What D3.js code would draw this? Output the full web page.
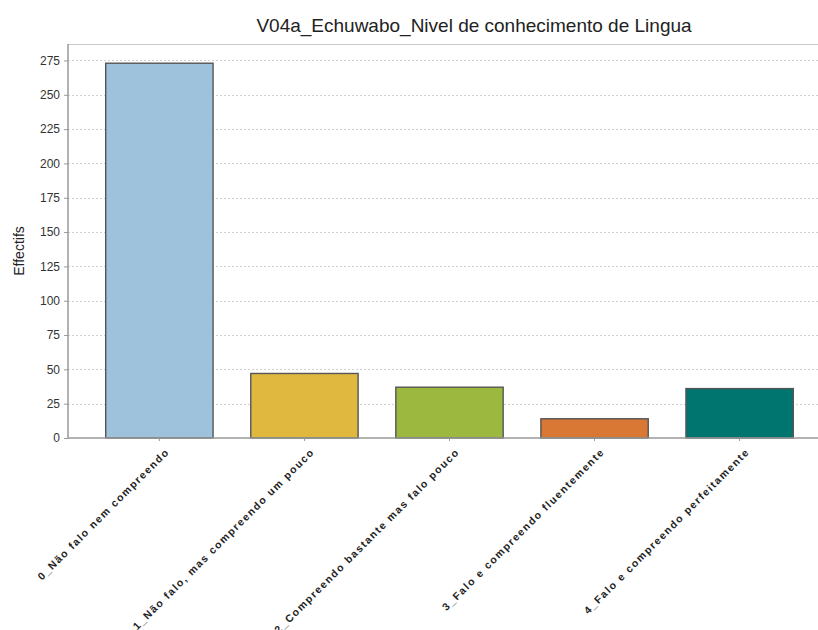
<!DOCTYPE html>
<html>
<head>
<meta charset="utf-8">
<script src="https://cdn.jsdelivr.net/npm/d3@7"></script>
<style>
  body { margin: 0; background: #fff; }
  svg { display: block; }
</style>
</head>
<body>
<div id="chart"></div>
<script>
// données
var categories = [
  "0_Não falo nem compreendo",
  "1_Não falo, mas compreendo um pouco",
  "2_Compreendo bastante mas falo pouco",
  "3_Falo e compreendo fluentemente",
  "4_Falo e compreendo perfeitamente"
]
var effectifs = [273, 47, 37, 14, 36]
var couleurs = ["#9fc2dc", "#e0b840", "#9cb83e", "#d97734", "#00746f"]
var yTicks = [0, 25, 50, 75, 100, 125, 150, 175, 200, 225, 250, 275]

var width = 818
var height = 630

var svg = d3.select("#chart")
  .append("svg")
    .attr("width", width)
    .attr("height", height)

// zone du graphique
var plotLeft = 68, plotTop = 44, plotBottom = 438, plotRight = 831

var x = d3.scaleBand()
  .domain(categories)
  .range([plotLeft, plotRight])
  .paddingInner(0.26)
  .paddingOuter(0.26)

var y = d3.scaleLinear()
  .domain([0, 287])
  .range([plotBottom, plotTop])

// titre
svg.append("text")
  .attr("x", 474)
  .attr("y", 32)
  .attr("text-anchor", "middle")
  .style("font-family", "Liberation Sans, Arial, sans-serif")
  .style("font-size", "19px")
  .style("fill", "#222")
  .text("V04a_Echuwabo_Nivel de conhecimento de Lingua")

// lignes de grille pointillées
svg.append("g")
  .selectAll("line")
  .data(yTicks.filter(function(d){ return d > 0 }))
  .enter()
  .append("line")
    .attr("x1", plotLeft)
    .attr("x2", width)
    .attr("y1", function(d){ return Math.round(y(d)) + 0.5 })
    .attr("y2", function(d){ return Math.round(y(d)) + 0.5 })
    .attr("stroke", "#d0d0d0")
    .attr("stroke-dasharray", "2,2")

// cadre du haut
svg.append("line")
  .attr("x1", plotLeft).attr("x2", width)
  .attr("y1", plotTop + 0.5).attr("y2", plotTop + 0.5)
  .attr("stroke", "#c8c8c8")

// barres
svg.append("g")
  .selectAll("rect")
  .data(effectifs)
  .enter()
  .append("rect")
    .attr("x", function(d, i){ return x(categories[i]) })
    .attr("y", function(d){ return y(d) })
    .attr("width", x.bandwidth())
    .attr("height", function(d){ return plotBottom - y(d) })
    .style("fill", function(d, i){ return couleurs[i] })
    .attr("stroke", "#555")
    .style("stroke-width", 1.4)

// axe Y
var yAxis = svg.append("g")
  .attr("transform", "translate(" + plotLeft + ",0)")
  .call(d3.axisLeft(y).tickValues(yTicks).tickSize(4).tickPadding(4))
yAxis.select(".domain").attr("stroke", "#999").attr("stroke-width", 1.5)
  .attr("d", "M0," + plotTop + "V" + plotBottom)
yAxis.selectAll(".tick line").attr("stroke", "#999")
yAxis.selectAll("text")
  .style("font-family", "Liberation Sans, Arial, sans-serif")
  .style("font-size", "12px")
  .style("fill", "#333")

// axe X
var xAxis = svg.append("g")
  .attr("transform", "translate(0," + plotBottom + ")")
  .call(d3.axisBottom(x).tickSize(3).tickPadding(8))
xAxis.select(".domain").attr("stroke", "#999").attr("stroke-width", 1.5)
  .attr("d", "M" + plotLeft + ",0H" + width)
xAxis.selectAll(".tick line").attr("stroke", "#999")
xAxis.selectAll("text")
  .attr("text-anchor", "end")
  .attr("dy", "0.35em")
  .attr("transform", "translate(8,12) rotate(-45)")
  .attr("y", 0)
  .style("font-family", "Liberation Sans, Arial, sans-serif")
  .style("font-size", "10.5px")
  .style("font-weight", "bold")
  .style("letter-spacing", "1.5px")
  .style("fill", "#222")

// titre de l'axe Y
svg.append("text")
  .attr("transform", "translate(24,251) rotate(-90)")
  .attr("text-anchor", "middle")
  .style("font-family", "Liberation Sans, Arial, sans-serif")
  .style("font-size", "14px")
  .style("fill", "#222")
  .text("Effectifs")
</script>
</body>
</html>
